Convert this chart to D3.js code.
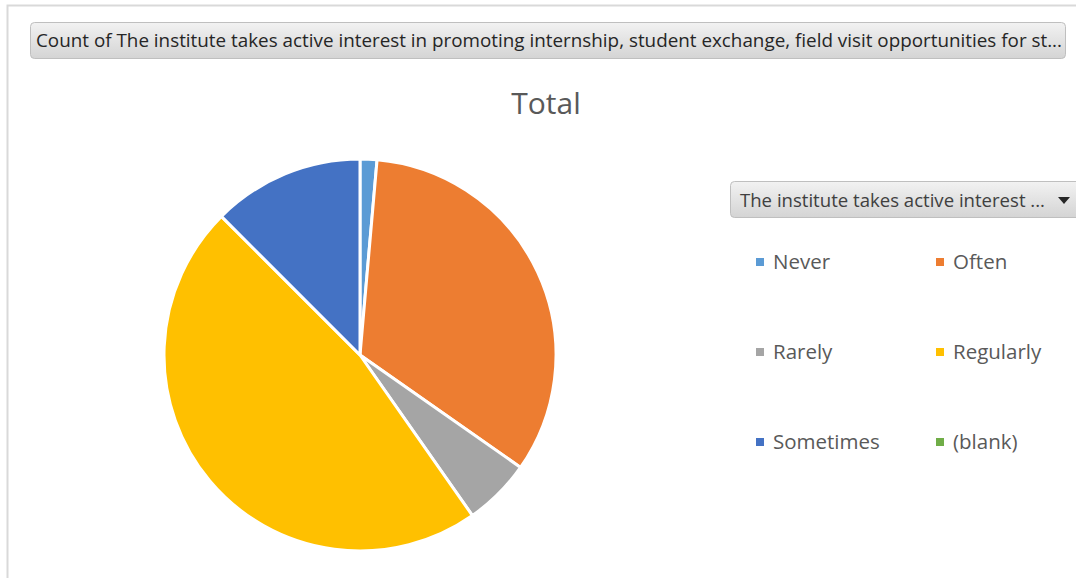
<!DOCTYPE html>
<html>
<head>
<meta charset="utf-8">
<script src="https://cdn.jsdelivr.net/npm/d3@7"></script>
<style>
  body { margin: 0; background: #fff; }
  text { font-family: "Open Sans", "Noto Sans", sans-serif; }
</style>
</head>
<body>
<div id="chart"></div>
<script>
// data
const categories = ["Never", "Often", "Rarely", "Regularly", "Sometimes", "(blank)"];
const counts = [1, 24, 4, 34, 9, 0];
const colors = ["#5B9BD5", "#ED7D31", "#A5A5A5", "#FFC000", "#4472C4", "#70AD47"];
const fieldTitle = "Count of  The institute takes active interest in promoting internship, student exchange, field visit opportunities for st...";
const legendTitle = "The institute takes active interest ...";
const chartTitle = "Total";

const width = 1076, height = 578;

const svg = d3.select("#chart").append("svg")
    .attr("width", width)
    .attr("height", height);

// chart area border
svg.append("path")
    .attr("d", `M7.5,${height} V5.5 H${width}`)
    .attr("fill", "none")
    .attr("stroke", "#d9d9d9")
    .attr("stroke-width", 2);

// gradient for field buttons
const defs = svg.append("defs");
const grad = defs.append("linearGradient").attr("id", "btn").attr("x1", 0).attr("y1", 0).attr("x2", 0).attr("y2", 1);
grad.append("stop").attr("offset", "0%").attr("stop-color", "#f2f2f2");
grad.append("stop").attr("offset", "100%").attr("stop-color", "#d4d4d4");

// field button at top
svg.append("rect")
    .attr("x", 30.5).attr("y", 22.5)
    .attr("width", 1035).attr("height", 36)
    .attr("rx", 4)
    .attr("fill", "url(#btn)")
    .attr("stroke", "#bfbfbf");
svg.append("text")
    .attr("x", 36).attr("y", 47)
    .attr("font-size", 18)
    .attr("fill", "#262626")
    .attr("textLength", 1026)
    .attr("lengthAdjust", "spacingAndGlyphs")
    .text(fieldTitle);

// title
svg.append("text")
    .attr("x", 546).attr("y", 114)
    .attr("text-anchor", "middle")
    .attr("font-size", 30)
    .attr("fill", "#595959")
    .text(chartTitle);

// pie
const data = categories.map((c, i) => ({ name: c, value: counts[i], color: colors[i] }));
const pie = d3.pie().sort(null).value(d => d.value);
const arc = d3.arc().innerRadius(0).outerRadius(196);

svg.append("g")
    .attr("transform", "translate(360,355)")
    .selectAll("path")
    .data(pie(data).filter(d => d.data.value > 0))
    .join("path")
    .attr("d", arc)
    .attr("fill", d => d.data.color)
    .attr("stroke", "#fff")
    .attr("stroke-width", 3)
    .attr("stroke-linejoin", "round");

// legend button
svg.append("rect")
    .attr("x", 730.5).attr("y", 181.5)
    .attr("width", 360).attr("height", 36)
    .attr("rx", 4)
    .attr("fill", "url(#btn)")
    .attr("stroke", "#bfbfbf");
svg.append("text")
    .attr("x", 740).attr("y", 207)
    .attr("font-size", 18)
    .attr("fill", "#404040")
    .attr("textLength", 305)
    .attr("lengthAdjust", "spacingAndGlyphs")
    .text(legendTitle);
svg.append("path")
    .attr("d", "M1058,197 L1070,197 L1064,204 Z")
    .attr("fill", "#262626");

// legend items
const colX = d3.scaleOrdinal().domain([0, 1]).range([756, 936]);
const rowY = d3.scalePoint().domain([0, 1, 2]).range([262, 442]);

const items = svg.append("g")
    .selectAll("g")
    .data(data)
    .join("g")
    .attr("transform", (d, i) => `translate(${colX(i % 2)},${rowY(Math.floor(i / 2))})`);
items.append("rect")
    .attr("x", 0).attr("y", -4)
    .attr("width", 8).attr("height", 8)
    .attr("fill", d => d.color);
items.append("text")
    .attr("x", 17).attr("y", 7)
    .attr("font-size", 20.5)
    .attr("fill", "#595959")
    .text(d => d.name);
</script>
</body>
</html>
